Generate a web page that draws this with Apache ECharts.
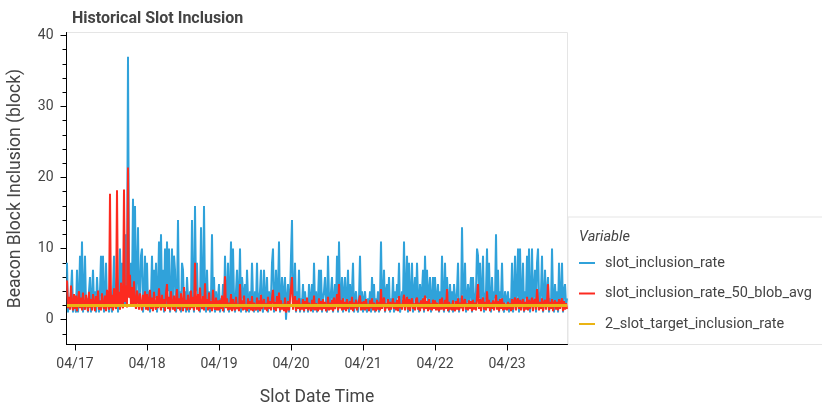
<!DOCTYPE html>
<html><head><meta charset="utf-8">
<script src="https://cdn.jsdelivr.net/npm/echarts@6/dist/echarts.min.js"></script>
<style>html,body{margin:0;padding:0;background:#fff}#c{width:822px;height:409px}</style>
</head><body><div id="c"></div>
<script>
// Sample grid: 20-minute steps starting 04/16 21:20 (x in days since 04/17 00:00)
const startDay = -8 / 72;
const stepDays = 1 / 72;

// slot_inclusion_rate, one array per day
const rate16 = [8,1,3,2,4,7,1,3];
const rate17 = [2,1,7,1,3,9,2,11,1,4, 9,2,3,1,4,6,1,3,7,2, 4,1,6,3,1,4,9,2,9,1, 3,8,2,4,1,5,3,1,4,9, 2,3,6,1,4,10,2,8,3,5, 2,12,4,37,6,3,8,4,17,5, 16,3,6,13,2,4,9,10,1,3, 9,2];
const rate18 = [8,2,4,1,3,9,2,7,3,8, 1,4,11,2,12,3,7,1,10,2, 11,4,10,1,3,10,2,9,7,1, 3,14,2,4,1,8,7,2,4,1, 6,3,1,4,2,14,3,1,16,4, 8,2,3,1,13,4,2,16,3,1, 7,2,4,1,3,12,2,6,1,4, 2,3];
const rate19 = [5,1,3,2,5,1,9,2,3,8, 1,4,11,2,10,3,1,4,7,2, 3,10,1,6,4,2,5,1,7,3, 1,4,2,8,3,1,4,2,8,1, 3,4,7,2,1,7,3,2,6,1, 4,2,3,8,10,1,3,7,2,4, 11,1,3,6,2,4,6,0,3,5, 1,3];
const rate20 = [9,14,2,3,8,1,4,2,7,1, 3,2,5,1,4,2,3,1,5,2, 3,5,1,8,2,4,1,3,7,2, 7,1,3,4,6,2,1,9,3,2, 4,6,1,3,5,2,9,1,11,3, 2,6,1,4,6,2,3,7,1,5, 2,4,8,1,3,4,2,1,3,9, 2,4];
const rate21 = [1,3,4,2,1,3,2,4,1,6, 2,5,1,3,2,4,1,3,11,2, 3,7,1,4,5,2,6,1,3,2, 6,1,4,2,5,3,8,1,2,4, 3,11,2,4,9,1,8,3,2,8, 1,4,6,2,8,3,1,5,2,4, 7,1,9,3,7,2,4,6,1,3, 6,2];
const rate22 = [6,2,3,5,1,4,2,9,3,1, 8,2,6,3,1,5,2,4,1,5, 3,2,4,8,1,3,2,13,4,2, 8,1,3,5,2,4,6,1,6,3, 2,4,10,9,3,8,2,4,9,1, 3,4,10,2,8,3,1,6,2,4, 3,12,2,7,1,4,3,8,2,1, 4,3];
const rate23 = [2,4,1,3,2,8,1,3,9,2, 4,10,1,10,3,2,8,1,4,3, 9,2,10,1,3,10,2,4,7,1, 8,10,3,2,4,9,1,3,7,2, 4,6,1,3,2,10,3,1,5,2, 4,1,8,3,2,8,1,4,5,2, 3];

// slot_inclusion_rate_50_blob_avg, one array per day
const avg16 = [5.5,1.6,3.2,1.4,4.8,2.1,1.3,3.6];
const avg17 = [1.5,3.4,1.2,2.8,4.0,1.6,3.1,1.3,3.8,2.0, 1.4,3.5,2.2,1.2,3.9,1.7,2.9,1.3,3.6,2.4, 1.2,3.3,1.8,4.1,1.4,2.7,1.3,3.7,2.1,1.5, 3.4,1.2,4.2,2.3,1.4,17.7,1.6,3.5,1.3,4.4, 2.0,1.5,18.2,1.8,3.9,1.4,5.2,2.2,1.6,18.3, 2.5,4.8,1.7,21.4,3.1,6.3,2.0,4.6,1.8,5.4, 2.4,1.5,4.1,3.0,1.4,3.7,2.2,1.3,3.5,1.9, 4.0,1.4];
const avg18 = [3.6,1.3,2.8,4.2,1.5,3.1,1.2,3.9,2.0,1.4, 3.3,1.6,4.4,2.2,1.3,3.5,1.7,2.9,1.2,3.8, 5.0,1.5,3.2,1.3,4.0,2.1,1.4,3.4,1.2,2.6, 4.3,1.5,3.0,1.3,3.7,2.3,1.2,4.6,1.6,2.8, 1.3,3.5,2.0,1.4,4.1,1.6,3.2,1.3,8.0,2.4, 1.4,3.6,1.2,4.5,2.1,1.5,3.3,1.3,5.1,1.8, 2.9,1.3,3.8,1.5,2.6,1.2,4.2,1.9,1.4,3.1, 1.3,2.7];
const avg19 = [1.3,2.8,1.5,3.4,1.2,2.5,6.1,1.6,3.0,1.3, 2.4,1.4,3.6,1.2,2.9,1.7,1.3,3.2,1.5,2.2, 1.2,5.0,1.6,2.7,1.3,3.4,1.4,2.1,1.2,3.0, 1.5,2.6,1.3,3.3,1.2,2.4,1.6,1.3,3.1,1.4, 2.7,1.2,3.5,1.5,1.3,2.9,1.4,2.3,1.2,3.2, 1.5,2.6,1.3,3.0,4.2,1.4,2.5,1.2,3.3,1.6, 3.8,1.3,2.7,1.4,2.2,1.2,3.1,1.0,1.5,2.6, 1.3,2.9];
const avg20 = [2.8,6.0,1.4,2.5,3.3,1.2,2.7,1.5,3.0,1.3, 2.2,1.4,2.9,1.2,2.6,1.5,3.1,1.3,2.4,1.6, 1.2,2.8,1.4,3.4,1.3,2.3,1.5,1.2,3.0,1.4, 2.6,1.3,2.9,1.5,2.5,1.2,1.6,3.2,1.3,2.4, 1.4,2.8,1.2,3.1,1.5,2.3,3.6,1.3,5.0,1.6, 2.7,1.3,3.0,1.4,2.5,1.2,2.9,1.5,1.3,2.6, 1.4,3.2,1.2,2.4,1.6,2.8,1.3,1.5,2.7,3.4, 1.3,2.5];
const avg21 = [1.4,2.6,1.3,2.9,1.5,2.2,1.2,2.7,1.6,3.0, 1.3,2.4,1.5,1.2,2.8,1.4,2.5,1.3,4.3,1.5, 2.6,3.1,1.2,2.3,1.6,2.9,1.3,2.5,1.4,1.2, 3.0,1.5,2.4,1.3,2.8,1.2,3.3,1.6,2.2,1.4, 2.7,3.5,1.3,2.5,3.2,1.4,2.9,1.2,2.6,3.0, 1.5,2.3,1.3,2.8,3.1,1.4,2.4,1.2,2.7,1.6, 3.0,1.3,3.4,1.5,2.6,1.2,2.9,1.4,2.3,1.3, 2.8,1.5];
const avg22 = [2.7,1.3,2.4,1.5,1.2,2.9,1.4,3.1,1.6,1.3, 2.8,1.5,4.3,1.2,2.5,1.4,2.2,1.3,2.7,1.5, 1.2,2.6,1.4,3.0,1.3,2.4,1.6,3.4,1.2,2.5, 2.9,1.4,2.3,1.3,2.7,1.5,2.6,1.2,2.8,1.4, 2.4,1.3,3.3,5.0,1.5,2.9,1.2,2.6,3.1,1.4, 2.5,1.3,4.0,1.6,2.8,1.2,2.4,1.5,2.7,1.3, 2.3,3.5,1.4,2.6,1.2,2.9,1.5,3.0,1.3,2.4, 1.4,2.2];
const avg23 = [1.3,2.5,1.5,2.3,1.2,2.9,1.4,2.6,3.1,1.3, 2.7,3.0,1.5,2.8,1.3,2.4,2.9,1.2,2.5,1.4, 3.2,1.3,2.8,1.5,2.4,3.1,1.2,2.6,2.9,1.4, 4.3,2.7,1.3,2.5,1.5,3.0,1.2,2.4,2.8,1.4, 2.6,5.0,1.3,2.5,1.5,2.9,1.2,2.3,2.7,1.4, 2.5,1.3,2.9,1.5,2.4,3.0,1.2,2.6,1.4,2.3, 1.5];

// 2_slot_target_inclusion_rate (constant over the whole period)
const targetRate = 2;

// axes
const tickDays = [0, 1, 2, 3, 4, 5, 6];
const tickLabels = ['04/17', '04/18', '04/19', '04/20', '04/21', '04/22', '04/23'];
const yTicks = [0, 10, 20, 30, 40];
const yMinorTicks = [-2, 2, 4, 6, 8, 12, 14, 16, 18, 22, 24, 26, 28, 32, 34, 36, 38];
const xMin = -0.118, xMax = 6.84;
const yMin = -3.5, yMax = 40.4;

const seriesNames = ['slot_inclusion_rate', 'slot_inclusion_rate_50_blob_avg', '2_slot_target_inclusion_rate'];
const colors = ['#30a2da', '#fc2a20', '#eab414'];

const rateAll = [].concat(rate16, rate17, rate18, rate19, rate20, rate21, rate22, rate23);
const avgAll = [].concat(avg16, avg17, avg18, avg19, avg20, avg21, avg22, avg23);
const rateData = rateAll.map((v, k) => [startDay + k * stepDays, v]);
const avgData = avgAll.map((v, k) => [startDay + k * stepDays, v]);
const lastDay = startDay + (rateAll.length - 1) * stepDays;
const targetData = [[startDay, targetRate], [lastDay, targetRate]];

const FONT = 'Roboto';
const chart = echarts.init(document.getElementById('c'), null, {renderer: 'canvas'});

const lineSeries = (name, data, color, z, width) => ({
  name, type: 'line', data, showSymbol: false, symbol: 'none', z,
  lineStyle: {width, color}, itemStyle: {color}, silent: true, animation: false
});

chart.setOption({
  animation: false,
  textStyle: {fontFamily: FONT},
  title: {
    text: 'Historical Slot Inclusion', left: 67, top: 6,
    textStyle: {fontSize: 16, fontWeight: 'bold', color: '#444', fontFamily: FONT}
  },
  grid: {
    left: 66.5, right: 254.5, top: 32.5, bottom: 64.5,
    show: true, borderColor: '#e5e5e5', borderWidth: 1, backgroundColor: 'transparent',
    outerBoundsMode: 'none'
  },
  xAxis: {
    type: 'value', min: xMin, max: xMax,
    name: 'Slot Date Time', nameLocation: 'middle', nameGap: 44,
    nameTextStyle: {fontSize: 17.5, color: '#444', fontFamily: FONT},
    axisLine: {onZero: false, lineStyle: {color: '#000', width: 1}},
    axisTick: {customValues: tickDays, length: 6, lineStyle: {color: '#000'}},
    axisLabel: {customValues: tickDays, formatter: v => tickLabels[tickDays.indexOf(Math.round(v))],
      fontSize: 14, color: '#444', margin: 13, fontFamily: FONT},
    splitLine: {show: false}
  },
  yAxis: [{
    type: 'value', min: yMin, max: yMax, position: 'left',
    name: 'Beacon Block Inclusion (block)', nameLocation: 'middle', nameGap: 42,
    nameTextStyle: {fontSize: 17.5, color: '#444', fontFamily: FONT},
    axisLine: {show: true, onZero: false, lineStyle: {color: '#000', width: 1}},
    axisTick: {show: true, customValues: yTicks, length: 6, lineStyle: {color: '#000'}},
    axisLabel: {customValues: yTicks, fontSize: 14, color: '#444', margin: 13, fontFamily: FONT},
    splitLine: {show: false}
  }, {
    type: 'value', min: yMin, max: yMax, position: 'left', offset: 0,
    axisLine: {show: false, onZero: false},
    axisTick: {show: true, customValues: yMinorTicks, length: 4, lineStyle: {color: '#000'}},
    axisLabel: {show: false},
    splitLine: {show: false}
  }],
  legend: {
    data: seriesNames, orient: 'vertical', left: 579, top: 247.75, padding: 0,
    itemGap: 0, itemWidth: 16, itemHeight: 2, icon: 'rect', selectedMode: false,
    textStyle: {fontSize: 14.5, color: '#444', lineHeight: 30.5, fontFamily: FONT, padding: [0, 0, 0, 5]}
  },
  graphic: [
    {type: 'rect', z: 0, shape: {x: 568, y: 217, width: 270, height: 127.5},
      style: {fill: '#fff', stroke: '#e5e5e5', lineWidth: 1}},
    {type: 'text', z: 5, left: 579, top: 230,
      style: {text: 'Variable', fontSize: 14.5, fontStyle: 'italic', fill: '#444', fontFamily: FONT}}
  ],
  series: [
    lineSeries(seriesNames[0], rateData, colors[0], 2, 2),
    lineSeries(seriesNames[1], avgData, colors[1], 3, 2),
    lineSeries(seriesNames[2], targetData, colors[2], 10, 3)
  ]
});
</script></body></html>
